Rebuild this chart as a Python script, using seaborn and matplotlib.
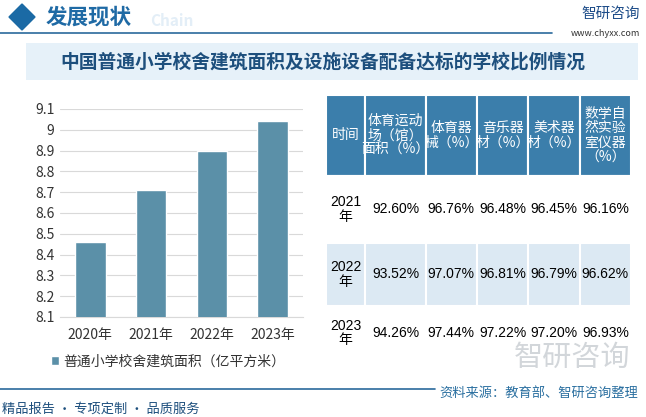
import matplotlib
matplotlib.use('Agg')
import matplotlib.pyplot as plt
import matplotlib.patches as mpatches
import seaborn as sns
import pandas as pd

# ============================================================
# DATA
# ============================================================

years = ['2020年', '2021年', '2022年', '2023年']
area = [8.46, 8.71, 8.90, 9.04]          # 亿平方米
y_ticks = [8.1, 8.2, 8.3, 8.4, 8.5, 8.6, 8.7, 8.8, 8.9, 9.0, 9.1]
y_tick_labels = ['8.1', '8.2', '8.3', '8.4', '8.5', '8.6', '8.7', '8.8', '8.9', '9', '9.1']
legend_label = '普通小学校舍建筑面积（亿平方米）'

table_header = ['时间', '体育运动\n场（馆）\n面积（%）', '体育器\n械（%）',
                '音乐器\n材（%）', '美术器\n材（%）', '数学自\n然实验\n室仪器\n（%）']
table_years = ['2021\n年', '2022\n年', '2023\n年']
sports_field = [92.60, 93.52, 94.26]
sports_equip = [96.76, 97.07, 97.44]
music_equip = [96.48, 96.81, 97.22]
art_equip = [96.45, 96.79, 97.20]
science_equip = [96.16, 96.62, 96.93]

title = '中国普通小学校舍建筑面积及设施设备配备达标的学校比例情况'
section = '发展现状'
source = '资料来源：教育部、智研咨询整理'
footer = '精品报告 · 专项定制 · 品质服务'

# ============================================================
# STYLE
# ============================================================

sns.set_style('white')
plt.rcParams['font.family'] = ['Noto Sans CJK SC', 'DejaVu Sans']

BAR_COLOR = '#5b90a8'
HEAD_BLUE = '#3b7eab'
LIGHT_ROW = '#dce9f3'
DARK_BLUE = '#1d4f7d'

fig = plt.figure(figsize=(6.46, 4.17), dpi=100)

# --- page decoration (header / footer) ---
bg = fig.add_axes([0, 0, 1, 1])
bg.set_xlim(0, 646)
bg.set_ylim(417, 0)
bg.axis('off')
bg.add_patch(mpatches.RegularPolygon((22, 17), 4, radius=13, color='#1b6aa5'))
bg.text(46, 17, section, fontsize=15.5, fontweight='bold', color='#1f6aa5', va='center')
bg.text(150, 21, 'Chain', fontsize=11, fontweight='bold', color='#e3eef7', va='center')
bg.plot([0, 552], [33, 33], color='#2a6a9c', lw=1.2)
bg.text(640, 14, '智研咨询', fontsize=10.5, color='#1f4e8a', ha='right', va='center')
bg.text(640, 33, 'www.chyxx.com', fontsize=6.5, color='#333333', ha='right', va='center')
bg.add_patch(mpatches.Rectangle((26, 43), 612, 37, color='#e6f1f9', lw=0))
bg.text(323, 62, title, fontsize=13.5, fontweight='bold', color=DARK_BLUE,
        ha='center', va='center')
bg.plot([0, 435], [389, 389], color='#2a6a9c', lw=1.2)
bg.text(638, 393, source, fontsize=9.5, color='#2a6fa0', ha='right', va='center')
bg.text(2, 409, footer, fontsize=9.5, color=DARK_BLUE, ha='left', va='center')

# ============================================================
# BAR CHART
# ============================================================

df = pd.DataFrame({'year': years, 'area': area})
ax = fig.add_axes([60 / 646, 1 - 317 / 417, 243 / 646, 208 / 417])
sns.barplot(data=df, x='year', y='area', color=BAR_COLOR, saturation=1,
            width=0.5, ax=ax, label=legend_label, zorder=3)
ax.set_ylim(8.1, 9.1)
ax.set_yticks(y_ticks)
ax.set_yticklabels(y_tick_labels)
ax.set_xlabel('')
ax.set_ylabel('')
ax.yaxis.grid(True, color='#d9d9d9', lw=0.8, zorder=0)
ax.set_axisbelow(True)
for s in ['top', 'right', 'left']:
    ax.spines[s].set_visible(False)
ax.spines['bottom'].set_color('#d9d9d9')
ax.tick_params(axis='both', length=0, labelsize=10, colors='#333333')
ax.tick_params(axis='y', pad=4)
ax.tick_params(axis='x', pad=8)
ax.legend(loc='upper left', bbox_to_anchor=(-0.09, -0.12), frameon=False,
          fontsize=10, handlelength=0.6, handleheight=0.6, handletextpad=0.3,
          labelcolor='#333333')

# ============================================================
# TABLE
# ============================================================

tax = fig.add_axes([326 / 646, 1 - 360 / 417, 305 / 646, 265 / 417])
tax.axis('off')
cols = [sports_field, sports_equip, music_equip, art_equip, science_equip]
cell_text = [[table_years[i]] + [f'{c[i]:.2f}%' for c in cols] for i in range(len(table_years))]
row_colors = ['white', LIGHT_ROW, 'white']
cell_colours = [[row_colors[i]] * len(table_header) for i in range(len(table_years))]

tbl = tax.table(cellText=cell_text, colLabels=table_header, cellColours=cell_colours,
                colColours=[HEAD_BLUE] * len(table_header), cellLoc='center',
                colWidths=[39, 60, 51, 51, 51, 51], bbox=[0, 0, 1, 1])
tbl.auto_set_font_size(False)
row_heights = [81, 67, 63, 54]
for (r, c), cell in tbl.get_celld().items():
    cell.set_height(row_heights[r])
    cell.set_edgecolor('white')
    cell.set_linewidth(1.5)
    cell.PAD = 0.02
    txt = cell.get_text()
    txt.set_fontsize(10)
    txt.set_linespacing(1.05)
    if r == 0:
        txt.set_color('white')
    else:
        txt.set_color('black')
        txt.set_fontfamily(['Liberation Sans', 'Noto Sans CJK SC'])

# watermark logo over the table corner
fig.text(630 / 646, 1 - 358 / 417, '智研咨询', fontsize=21, color='#c4c9ce',
         ha='right', va='center', alpha=0.75)

plt.savefig('out.png', dpi=100)
plt.close()
